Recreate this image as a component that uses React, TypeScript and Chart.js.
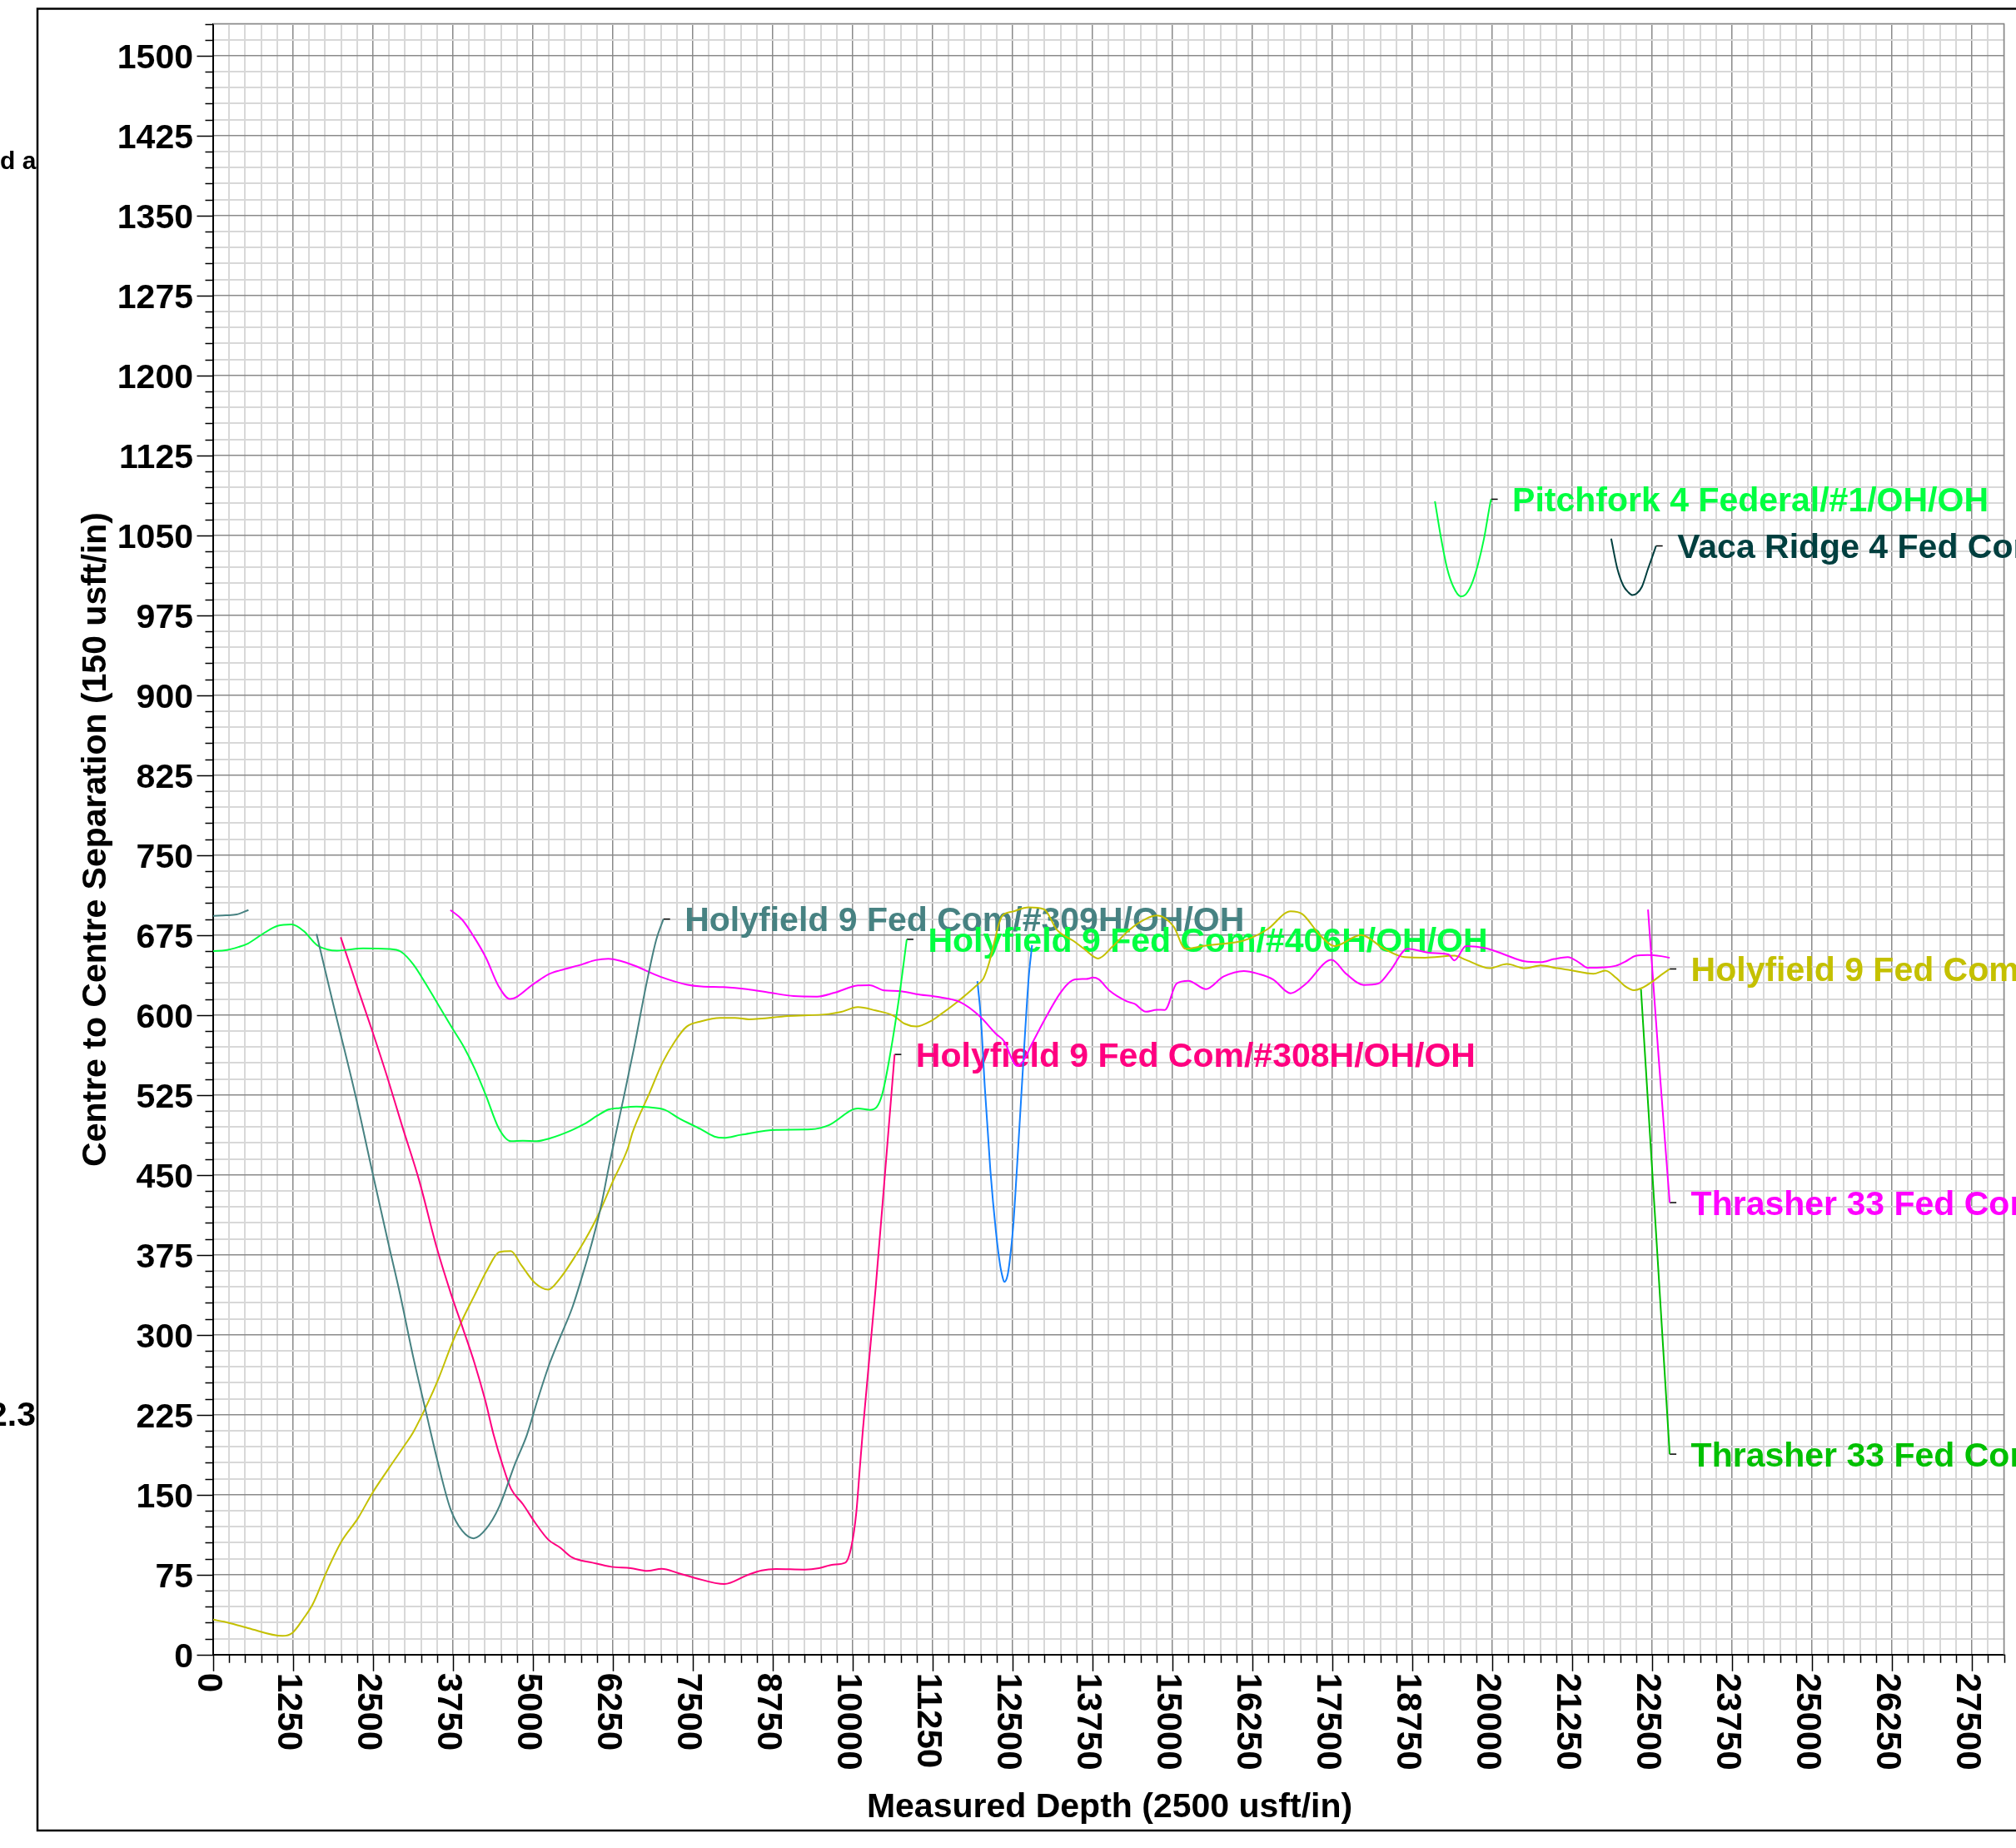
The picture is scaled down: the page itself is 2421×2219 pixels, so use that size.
import React, { useEffect, useRef } from "react";
import { Chart, registerables } from "chart.js";

Chart.register(...registerables);

const W = 2421;
const H = 2219;
const PLOT_LEFT = 256;
const PLOT_TOP = 28.5;
const PLOT_RIGHT = 2406.5;
const PLOT_BOTTOM = 1986.7;
const FONT = '"Liberation Sans", Arial, Helvetica, sans-serif';

const X_MAX = 28000;
const Y_MAX = 1530;

const xTickLabels = [
  "0", "1250", "2500", "3750", "5000", "6250", "7500", "8750", "10000", "11250", "12500", "13750",
  "15000", "16250", "17500", "18750", "20000", "21250", "22500", "23750", "25000", "26250", "27500",
];
const yTickLabels = [
  "0", "75", "150", "225", "300", "375", "450", "525", "600", "675", "750", "825", "900", "975",
  "1050", "1125", "1200", "1275", "1350", "1425", "1500",
];

const xAxisTitle = "Measured Depth (2500 usft/in)";
const yAxisTitle = "Centre to Centre Separation (150 usft/in)";

// ---- series (measured depth, centre-to-centre separation) ----
const holy309HStart: [number, number][] = [[0, 693], [200, 693.5], [366, 694.3], [552, 698.5]];

const holy309H: [number, number][] = [
  [1616, 676], [1878, 610], [2227, 524], [2488, 453], [2750, 383], [2915, 340], [3132, 278],
  [3326, 228], [3510, 181], [3708, 137], [3895, 116], [4074, 109], [4269, 118], [4471, 138.5],
  [4720, 179], [4905, 206], [5078, 240], [5251, 271.5], [5424, 297.5], [5618, 326], [5770, 355],
  [5943, 391], [6073, 423], [6181, 456], [6413, 521], [6587, 571], [6762, 625.5], [6925, 670],
  [7040, 690],
];

const holy406H: [number, number][] = [
  [0, 660], [192, 660.7], [395, 663.8], [541, 667], [773, 676], [1006, 683.6], [1227, 684.9],
  [1413, 678.9], [1616, 665.9], [1791, 661.4], [1936, 660.4], [2343, 662.5], [2750, 662],
  [2936, 659.4], [3128, 647.6], [3302, 631.5], [3506, 611], [3738, 587.7], [3913, 570.7],
  [4087, 549.9], [4262, 525], [4465, 493.8], [4657, 481.6], [4843, 482.1], [5058, 481.6],
  [5250, 484], [5599, 491.7], [5802, 497.7], [6006, 505.5], [6180, 511.3], [6355, 512.8],
  [6616, 514.1], [6820, 513.4], [7061, 511], [7285, 503], [7620, 493], [7837, 486], [7982, 484.7],
  [8253, 487.6], [8802, 492.2], [9350, 492.7], [9624, 496.6], [10082, 512.3], [10265, 511],
  [10374, 513.6], [10465, 526.6], [10585, 563], [10722, 615.2], [10845, 671],
];

const holy308H: [number, number][] = [
  [1994, 673], [2227, 631], [2488, 585], [2721, 542], [2954, 496], [3215, 446], [3499, 381],
  [3715, 339], [3910, 305], [4083, 274], [4256, 238], [4386, 206], [4524, 178], [4657, 155.5],
  [4844, 141], [5031, 124], [5241, 107.7], [5420, 100.6], [5615, 91], [5929, 86.2], [6228, 82.3],
  [6527, 81], [6788, 78.4], [7013, 80.5], [7274, 76.3], [7530, 71.9], [7993, 66.1], [8352, 74.5],
  [8576, 78.9], [8800, 80.2], [9248, 79.7], [9473, 81], [9697, 84.4], [9884, 86.2], [9981, 101.9],
  [10056, 133.3], [10108, 172.5], [10160, 211.7], [10360, 345], [10515, 459], [10655, 563],
];

const holyYellow: [number, number][] = [
  [0, 32.7], [172, 30.8], [546, 24.8], [1084, 17.5], [1234, 20.1], [1420, 34.5], [1555, 47],
  [1779, 78.4], [2004, 105.8], [2265, 128], [2490, 151.6], [2751, 175.1], [2975, 194.7],
  [3132, 209], [3348, 235], [3521, 258.5], [3737, 292.3], [3910, 315.8], [4083, 336.6],
  [4278, 360.1], [4472, 377.6], [4654, 378.6], [4818, 365.3], [5035, 348.4], [5238, 342.4],
  [5415, 352.3], [5640, 371.8], [5813, 388.8], [6029, 413.5], [6246, 443.5], [6483, 474.8],
  [6558, 489.9], [6820, 526.4], [7023, 555], [7227, 576], [7401, 589], [7634, 594.2],
  [7925, 597.3], [8157, 597.3], [8378, 596], [8984, 599], [9624, 600.9], [9807, 602.7],
  [10081, 607.4], [10355, 604.3], [10630, 599.6], [10813, 591.8], [10995, 589.2], [11224, 594.4],
  [11372, 600.5], [11632, 612.2], [11936, 627.8], [12044, 634.3], [12131, 648.6], [12218, 669.4],
  [12283, 685], [12335, 692.8], [12500, 697], [12750, 701], [12990, 699.3], [13194, 679.8],
  [13455, 669.4], [13628, 661.6], [13837, 653], [14062, 664.2], [14323, 679.8], [14583, 690.2],
  [14757, 693.3], [15018, 682.9], [15201, 662.1], [15475, 664.7], [15658, 666], [16116, 669.9],
  [16481, 680.3], [16847, 697.3], [17030, 694.7], [17304, 675.1], [17533, 664.7], [17944, 675.1],
  [18310, 662.1], [18630, 654.3], [18950, 653.8], [19407, 655.6], [19590, 651.7], [19956, 643.9],
  [20230, 647.8], [20504, 643.9], [20760, 646.5], [21014, 643.9], [21226, 642], [21580, 638.7],
  [21769, 641.7], [21934, 635], [22075, 627.1], [22217, 623.3], [22335, 625.2], [22500, 631.2],
  [22641, 637.6], [22774, 643.2],
];

const thrasherMagenta: [number, number][] = [
  [3709, 698.5], [3895, 689.3], [4087, 672.4], [4262, 654.1], [4465, 626.8], [4640, 615],
  [5017, 629.4], [5238, 638], [5424, 641.9], [5773, 647.6], [5977, 651.5], [6180, 652.8],
  [6355, 651], [6587, 646.3], [6994, 635.9], [7401, 628.6], [7634, 626.8], [7983, 626.2],
  [8344, 624.3], [8710, 620.9], [9075, 617.8], [9441, 617.3], [9715, 620.9], [10081, 627.7],
  [10264, 628], [10493, 623], [10722, 622.5], [10995, 619.6], [11372, 616.6], [11675, 612.2],
  [11979, 599.2], [12240, 582.3], [12378, 574.5], [12478, 560.2], [12565, 552.4], [12674, 557.6],
  [12804, 573.2], [13021, 597.9], [13238, 620], [13368, 629.6], [13477, 633.5], [13650, 633.8],
  [13759, 635.1], [13845, 633.5], [14019, 622.6], [14279, 613], [14409, 610.4], [14583, 603.1],
  [14757, 604.9], [14881, 604.8], [15064, 629.5], [15247, 632.1], [15521, 624.3], [15796, 636],
  [16116, 641.3], [16344, 638.6], [16573, 633.4], [16847, 620.4], [17075, 628.7], [17487, 651.7],
  [17716, 638.6], [17990, 628.2], [18218, 629.5], [18401, 641.3], [18675, 662.1], [19041, 658.2],
  [19315, 656.9], [19407, 651.2], [19590, 664.7], [19910, 662.6], [20184, 656.9], [20504, 650.4],
  [20760, 649.6], [20967, 652.5], [21179, 654.4], [21368, 648.8], [21486, 644.3], [21745, 644.7],
  [21934, 646.2], [22075, 649.9], [22241, 655.5], [22429, 656.3], [22641, 655.2], [22774, 653.7],
];

const thrasherMagentaEnd: [number, number][] = [[22435, 699], [22600, 561], [22774, 424]];
const thrasherGreen: [number, number][] = [[22325, 624], [22550, 406], [22774, 188]];

const blueOffset: [number, number][] = [
  [11949, 631.7], [12001, 599.2], [12066, 531.6], [12153, 453.6], [12240, 396.4], [12305, 365.2],
  [12335, 356.1], [12370, 349.6], [12422, 356.1], [12457, 370.4], [12509, 401.6], [12565, 453.6],
  [12630, 518.6], [12695, 583.6], [12752, 635.6], [12804, 665.5],
];

const pitchfork: [number, number][] = [
  [19103, 1082], [19199, 1047.4], [19295, 1018.8], [19391, 1001.8], [19506, 992.7],
  [19583, 994.5], [19679, 1004.4], [19776, 1022.7], [19872, 1047.4], [19955, 1076], [19981, 1083.9],
];

const vacaRidge: [number, number][] = [
  [21859, 1046.9], [21955, 1018.8], [22051, 1002.6], [22128, 996.6], [22192, 994], [22256, 995.3],
  [22340, 1001.8], [22436, 1018.8], [22513, 1031.8], [22560, 1040.1],
];

const seriesNames = [
  "Holyfield 9 Fed Com/#309H/OH/OH",
  "Holyfield 9 Fed Com/#406H/OH/OH",
  "Holyfield 9 Fed Com/#308H/OH/OH",
  "Pitchfork 4 Federal/#1/OH/OH",
  "Vaca Ridge 4 Fed Com",
  "Holyfield 9 Fed Com",
  "Thrasher 33 Fed Com",
  "Thrasher 33 Fed Com",
];

// ---- styles ----
const C_TEAL = "#478282";
const C_GREEN = "#00FF40";
const C_PINK = "#FF0080";
const C_MAGENTA = "#FF00FF";
const C_YELLOW = "#C4C000";
const C_BLUE = "#1480FF";
const C_DARK = "#003F3F";
const C_GREEN2 = "#00C000";

const lineSeries = [
  { data: holy309HStart, color: C_TEAL },
  { data: holy309H, color: C_TEAL },
  { data: holy406H, color: C_GREEN },
  { data: holy308H, color: C_PINK },
  { data: thrasherMagenta, color: C_MAGENTA },
  { data: holyYellow, color: C_YELLOW },
  { data: blueOffset, color: C_BLUE },
  { data: pitchfork, color: C_GREEN },
  { data: vacaRidge, color: C_DARK },
  { data: thrasherMagentaEnd, color: C_MAGENTA },
  { data: thrasherGreen, color: C_GREEN2 },
];

const curveLabels = [
  { data: holy309H, text: seriesNames[0], color: C_TEAL },
  { data: holy406H, text: seriesNames[1], color: C_GREEN },
  { data: holy308H, text: seriesNames[2], color: C_PINK },
  { data: pitchfork, text: seriesNames[3], color: C_GREEN },
  { data: vacaRidge, text: seriesNames[4], color: C_DARK },
  { data: holyYellow, text: seriesNames[5], color: C_YELLOW },
  { data: thrasherMagentaEnd, text: seriesNames[6], color: C_MAGENTA },
  { data: thrasherGreen, text: seriesNames[7], color: C_GREEN2 },
];

const X_MINOR = 250;
const X_MAJOR = 1250;
const Y_MINOR = 15;
const Y_MAJOR = 75;

const xGridValues: number[] = [];
for (let v = 0; v <= X_MAX; v += X_MINOR) xGridValues.push(v);
const yGridValues: number[] = [];
for (let v = 0; v <= Y_MAX; v += Y_MINOR) yGridValues.push(v);

const MAJOR_COLOR = "#8a8a8a";
const MINOR_COLOR = "#d8d8d8";

const decorPlugin = {
  id: "decor",
  beforeDatasetsDraw(chart: any) {
    const { ctx, chartArea: a, scales } = chart;
    const xs = scales.x;
    const ys = scales.y;
    ctx.save();
    ctx.strokeStyle = MAJOR_COLOR;
    ctx.lineWidth = 1.5;
    ctx.beginPath();
    ctx.moveTo(a.left, a.top);
    ctx.lineTo(a.right, a.top);
    ctx.lineTo(a.right, a.bottom);
    ctx.stroke();

    ctx.font = `bold 41px ${FONT}`;
    ctx.textAlign = "left";
    ctx.textBaseline = "alphabetic";
    for (const l of curveLabels) {
      const last = l.data[l.data.length - 1];
      const px = xs.getPixelForValue(last[0]);
      const py = ys.getPixelForValue(last[1]);
      ctx.strokeStyle = "#000";
      ctx.lineWidth = 1.5;
      ctx.beginPath();
      ctx.moveTo(px, py);
      ctx.lineTo(px + 8, py);
      ctx.stroke();
      ctx.fillStyle = l.color;
      ctx.fillText(l.text, px + 25.5, py + 14.7);
    }
    ctx.restore();
  },
  afterDraw(chart: any) {
    const { ctx, chartArea: a, scales } = chart;
    const xs = scales.x;
    const ys = scales.y;
    ctx.save();
    // tick marks
    ctx.strokeStyle = "#000";
    ctx.lineWidth = 1.5;
    ctx.beginPath();
    for (const v of yGridValues) {
      const py = Math.round(ys.getPixelForValue(v)) + 0.5;
      const len = v % Y_MAJOR === 0 ? 19.5 : 9.5;
      ctx.moveTo(a.left, py);
      ctx.lineTo(a.left - len, py);
    }
    for (const v of xGridValues) {
      const px = Math.round(xs.getPixelForValue(v)) + 0.5;
      const len = v % X_MAJOR === 0 ? 20 : 10;
      ctx.moveTo(px, a.bottom);
      ctx.lineTo(px, a.bottom + len);
    }
    ctx.stroke();

    ctx.fillStyle = "#000";
    // y tick labels
    ctx.font = `bold 41px ${FONT}`;
    ctx.textAlign = "right";
    ctx.textBaseline = "alphabetic";
    for (const l of yTickLabels) {
      ctx.fillText(l, 232, ys.getPixelForValue(Number(l)) + 15.5);
    }
    // x tick labels (rotated, reading downward)
    ctx.font = `bold 42px ${FONT}`;
    ctx.textAlign = "left";
    for (const l of xTickLabels) {
      const px = xs.getPixelForValue(Number(l));
      ctx.save();
      ctx.translate(px - 18, a.bottom + 22);
      ctx.rotate(Math.PI / 2);
      ctx.fillText(l, 0, 0);
      ctx.restore();
    }
    // axis titles
    ctx.font = `bold 41px ${FONT}`;
    ctx.textAlign = "center";
    ctx.fillText(xAxisTitle, 1332.5, 2182);
    ctx.save();
    ctx.translate(126.7, 1008);
    ctx.rotate(-Math.PI / 2);
    ctx.fillText(yAxisTitle, 0, 0);
    ctx.restore();

    // outer frame
    ctx.strokeStyle = "#000";
    ctx.lineWidth = 2.5;
    ctx.beginPath();
    ctx.moveTo(W + 5, 10.5);
    ctx.lineTo(45, 10.5);
    ctx.lineTo(45, 2198);
    ctx.lineTo(W + 5, 2198);
    ctx.stroke();

    // clipped side texts
    ctx.save();
    ctx.beginPath();
    ctx.rect(0, 0, 44, H);
    ctx.clip();
    ctx.font = `bold 30px ${FONT}`;
    ctx.textAlign = "left";
    ctx.fillText("d a", 0, 203);
    ctx.font = `bold 41px ${FONT}`;
    ctx.textAlign = "right";
    ctx.fillText("2.3", 43, 1711.5);
    ctx.restore();

    ctx.restore();
  },
};

export default function App() {
  const ref = useRef<HTMLCanvasElement | null>(null);

  useEffect(() => {
    if (!ref.current) return;
    const chart = new Chart(ref.current, {
      type: "line",
      data: {
        datasets: lineSeries.map((s, i) => ({
          label: `s${i}`,
          data: s.data.map(([x, y]) => ({ x, y })),
          borderColor: s.color,
          backgroundColor: s.color,
          borderWidth: 2,
          pointRadius: 0,
          fill: false,
          cubicInterpolationMode: "monotone" as const,
        })),
      },
      options: {
        animation: false,
        responsive: false,
        events: [],
        layout: {
          padding: { left: 0, top: PLOT_TOP, right: W - PLOT_RIGHT, bottom: 0 },
        },
        plugins: {
          legend: { display: false },
          tooltip: { enabled: false },
          title: { display: false },
        },
        scales: {
          x: {
            type: "linear",
            min: 0,
            max: X_MAX,
            afterBuildTicks: (s: any) => {
              s.ticks = xGridValues.map((v) => ({ value: v }));
            },
            afterFit: (s: any) => {
              s.height = H - PLOT_BOTTOM;
            },
            ticks: { display: false },
            grid: {
              drawTicks: false,
              color: (c: any) => (c.tick && c.tick.value % X_MAJOR === 0 ? MAJOR_COLOR : MINOR_COLOR),
              lineWidth: (c: any) => (c.tick && c.tick.value % X_MAJOR === 0 ? 1.5 : 2),
            },
            border: { display: true, color: "#000", width: 2 },
          },
          y: {
            type: "linear",
            min: 0,
            max: Y_MAX,
            afterBuildTicks: (s: any) => {
              s.ticks = yGridValues.map((v) => ({ value: v }));
            },
            afterFit: (s: any) => {
              s.width = PLOT_LEFT;
            },
            ticks: { display: false },
            grid: {
              drawTicks: false,
              color: (c: any) => (c.tick && c.tick.value % Y_MAJOR === 0 ? MAJOR_COLOR : MINOR_COLOR),
              lineWidth: (c: any) => (c.tick && c.tick.value % Y_MAJOR === 0 ? 1.5 : 2),
            },
            border: { display: true, color: "#000", width: 2 },
          },
        },
      },
      plugins: [decorPlugin],
    } as any);
    return () => chart.destroy();
  }, []);

  return (
    <div style={{ position: "absolute", left: 0, top: 0, width: W, height: H, background: "#fff" }}>
      <canvas ref={ref} width={W} height={H} style={{ display: "block", width: W, height: H }} />
    </div>
  );
}
